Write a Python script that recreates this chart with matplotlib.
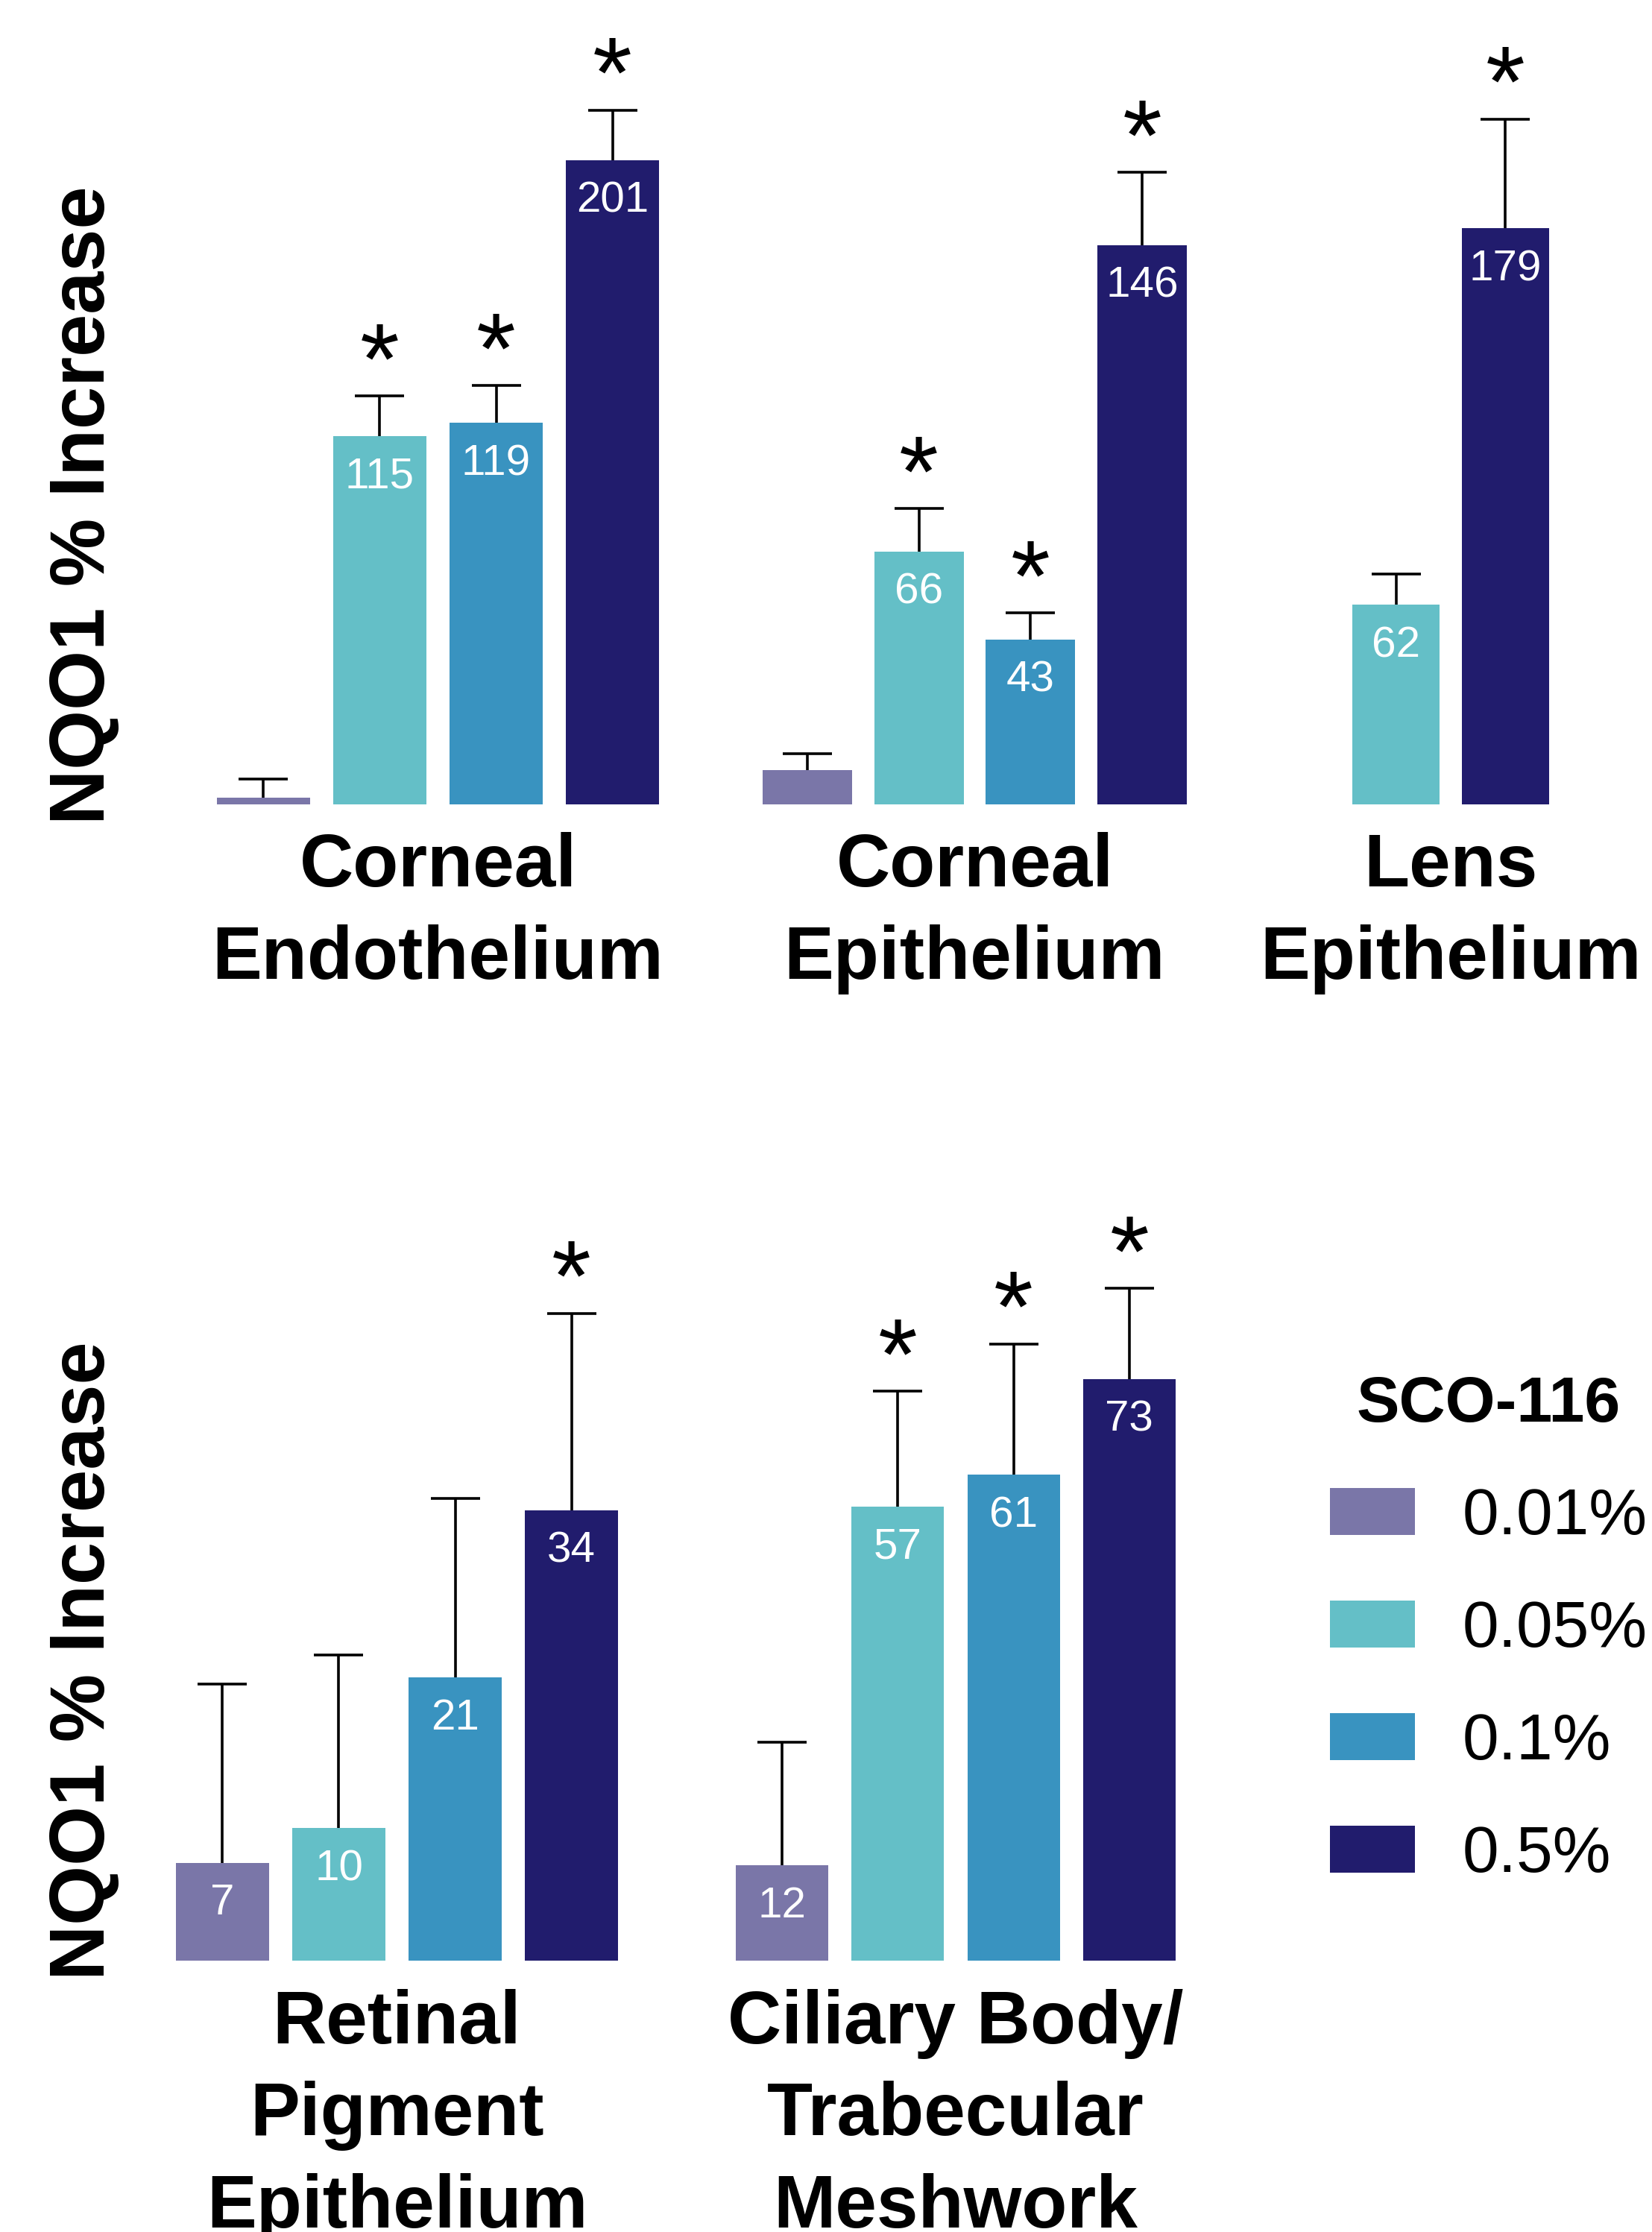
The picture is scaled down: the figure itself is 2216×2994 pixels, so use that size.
import numpy as np
import matplotlib
matplotlib.use("Agg")
import matplotlib.pyplot as plt
from matplotlib.patches import Patch

plt.rcParams["font.family"] = ["Liberation Sans", "DejaVu Sans"]

doses = ["0.01%", "0.05%", "0.1%", "0.5%"]
dose_colors = ["#7a76a8", "#64bfc7", "#3993c0", "#211c6d"]

# corneal endothelium
endo_dose = [0, 1, 2, 3]
endo_mean = [2, 115, 119, 201]
endo_err = [6, 12.4, 11.7, 15.6]
endo_star = [False, True, True, True]
endo_show = [False, True, True, True]

# corneal epithelium
epi_dose = [0, 1, 2, 3]
epi_mean = [9, 66, 43, 146]
epi_err = [4.2, 11.2, 7, 19]
epi_star = [False, True, True, True]
epi_show = [False, True, True, True]

# lens epithelium (only two doses tested)
lens_dose = [1, 3]
lens_mean = [62, 179]
lens_err = [9.5, 34]
lens_star = [False, True]
lens_show = [True, True]

# retinal pigment epithelium
rpe_dose = [0, 1, 2, 3]
rpe_mean = [7.4, 10, 21.4, 34]
rpe_err = [13.5, 13.1, 13.5, 14.9]
rpe_star = [False, False, False, True]
rpe_show = [True, True, True, True]

# ciliary body / trabecular meshwork
cb_dose = [0, 1, 2, 3]
cb_mean = [12, 57, 61, 73]
cb_err = [15.4, 14.5, 16.4, 11.4]
cb_star = [False, True, True, True]
cb_show = [True, True, True, True]

W, H = 2216, 2994
fig = plt.figure(figsize=(W / 200, H / 200), dpi=200)


def px_rect(left, right, top, bottom):
    return [left / W, 1 - bottom / H, (right - left) / W, (bottom - top) / H]


def draw_panel(rect, ytop, dose_idx, mean, err, star, show, name):
    ax = fig.add_axes(rect)
    x = np.arange(len(mean))
    cols = [dose_colors[i] for i in dose_idx]
    ax.bar(x, mean, width=0.8, color=cols, zorder=2)
    eb = ax.errorbar(x, mean, yerr=[np.zeros(len(err)), err], fmt="none",
                     ecolor="black", elinewidth=1.3, capsize=12, capthick=1.3, zorder=1)
    # only the upper cap
    eb[1][0].set_visible(False)
    for xi, m, e, s, v in zip(x, mean, err, star, show):
        if v:
            ax.annotate(f"{m:.0f}", (xi, m), xytext=(0, -10), textcoords="offset points",
                        ha="center", va="top", color="white", fontsize=21)
        if s:
            ax.annotate("*", (xi, m + e), xytext=(0, 1.5), textcoords="offset points",
                        ha="center", va="baseline", fontsize=49)
    ax.set_xlim(-0.4, len(mean) - 0.6)
    ax.set_ylim(0, ytop)
    ax.axis("off")
    ax.annotate(name, (0.5, 0), xycoords="axes fraction", xytext=(0, -13.5),
                textcoords="offset points", ha="center", va="top",
                fontsize=36, fontweight="bold", linespacing=1.41)
    return ax


draw_panel(px_rect(291, 884, 0, 1079), 251, endo_dose, endo_mean, endo_err,
           endo_star, endo_show, "Corneal\nEndothelium")
draw_panel(px_rect(1023, 1592, 0, 1079), 210, epi_dose, epi_mean, epi_err,
           epi_star, epi_show, "Corneal\nEpithelium")
draw_panel(px_rect(1814, 2078, 0, 1079), 250, lens_dose, lens_mean, lens_err,
           lens_star, lens_show, "Lens\nEpithelium")
draw_panel(px_rect(236, 829, 1600, 2630), 58, rpe_dose, rpe_mean, rpe_err,
           rpe_star, rpe_show, "Retinal\nPigment\nEpithelium")
draw_panel(px_rect(987, 1577, 1600, 2630), 96.4, cb_dose, cb_mean, cb_err,
           cb_star, cb_show, "Ciliary Body/\nTrabecular\nMeshwork")

for yc in (678, 2228):
    fig.text(114 / W, 1 - yc / H, "NQO1 % Increase", rotation=90, ha="center",
             va="center", fontsize=37, fontweight="bold")

handles = [Patch(facecolor=c, edgecolor="none") for c in dose_colors]
fig.legend(handles, doses, loc="upper left", bbox_to_anchor=(1784 / W, 1 - 1845 / H),
           frameon=False, fontsize=31.5, title="SCO-116",
           title_fontproperties={"weight": "bold", "size": 31},
           handlelength=1.3, handleheight=0.72, handletextpad=0.73,
           labelspacing=0.8, borderpad=0, borderaxespad=0)

fig.savefig("out.png", dpi=200)
